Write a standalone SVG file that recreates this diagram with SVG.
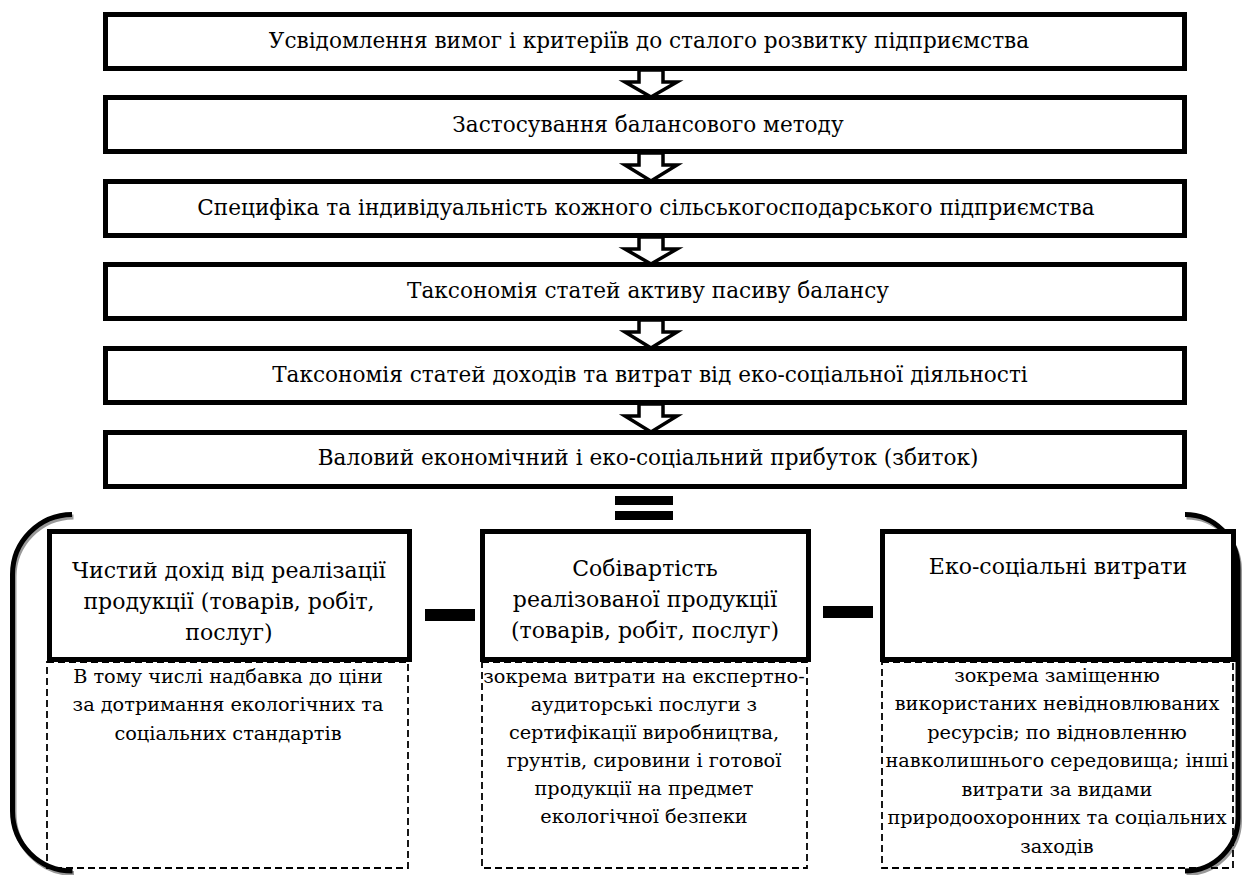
<svg xmlns="http://www.w3.org/2000/svg" width="1242" height="875" viewBox="0 0 1242 875">
<style>
.box{fill:#fff;stroke:#000;stroke-width:5}
.dash{fill:none;stroke:#000;stroke-width:1.8;stroke-dasharray:7 4}
.arr{fill:#fff;stroke:#000;stroke-width:3.5;stroke-linejoin:miter}
text{font-family:'DejaVu Serif','Liberation Serif','Noto Serif',serif;text-anchor:middle;fill:#000}
.t{font-size:21.6px}
.h{font-size:22px}
.d{font-size:19.3px}
.br{fill:none;stroke:#000;stroke-width:5}
.sh{fill:none;stroke:#999;stroke-width:5}
</style>
<rect width="1242" height="875" fill="#fff"/>
<g id="bracket">
<path class="sh" d="M73.5,517 A60 60 0 0 0 14,577 L14,813 A60 60 0 0 0 74,873.5"/>
<path class="sh" d="M1186.5,517 A53 53 0 0 1 1239.5,570 L1239.5,820 A53 53 0 0 1 1186.5,873.5"/>
<path class="br" d="M72,514.5 A60 60 0 0 0 12.5,574.5 L12.5,811 A60 60 0 0 0 72.5,871"/>
<path class="br" d="M1185,514.5 A53 53 0 0 1 1238,567.5 L1238,818 A53 53 0 0 1 1185,871"/>
</g>
<g id="n1"><rect class="box" x="105.5" y="14.5" width="1079" height="54"/><text class="t" x="649" y="48">Усвідомлення вимог і критеріїв до сталого розвитку підприємства</text></g>
<g id="n2"><rect class="box" x="105.5" y="97.5" width="1079" height="54"/><text class="t" x="648" y="132">Застосування балансового методу</text></g>
<g id="n3"><rect class="box" x="105.5" y="181.5" width="1079" height="54"/><text class="t" x="646" y="215">Специфіка та індивідуальність кожного сільськогосподарського підприємства</text></g>
<g id="n4"><rect class="box" x="105.5" y="264.5" width="1079" height="54"/><text class="t" x="648" y="298">Таксономія статей активу пасиву балансу</text></g>
<g id="n5"><rect class="box" x="105.5" y="348.5" width="1079" height="54"/><text class="t" x="650" y="382">Таксономія статей доходів та витрат від еко-соціальної діяльності</text></g>
<g id="n6"><rect class="box" x="105.5" y="432.5" width="1079" height="54"/><text class="t" x="648" y="465">Валовий економічний і еко-соціальний прибуток (збиток)</text></g>
<g id="connectors">
<path class="arr" d="M639,70 L663,70 L663,82 L677,82 L651,97 L625,82 L639,82 Z"/>
<path class="arr" d="M639,153 L663,153 L663,165 L677,165 L651,181 L625,165 L639,165 Z"/>
<path class="arr" d="M639,237 L663,237 L663,249 L677,249 L651,264 L625,249 L639,249 Z"/>
<path class="arr" d="M639,320 L663,320 L663,332 L677,332 L651,348 L625,332 L639,332 Z"/>
<path class="arr" d="M639,404 L663,404 L663,416 L677,416 L651,432 L625,416 L639,416 Z"/>
<rect x="615" y="496" width="58" height="9" fill="#000"/>
<rect x="615" y="511" width="58" height="9" fill="#000"/>
<rect x="425" y="609" width="50" height="12" fill="#000"/>
<rect x="823" y="606" width="50" height="12" fill="#000"/>
</g>
<g id="b1">
<rect class="box" x="49.5" y="531.5" width="360" height="128"/>
<text class="h" x="229" y="578">Чистий дохід від реалізації</text>
<text class="h" x="229" y="609">продукції (товарів, робіт,</text>
<text class="h" x="229" y="640">послуг)</text>
</g>
<g id="b2">
<rect class="box" x="482.5" y="531.5" width="326" height="128"/>
<text class="h" x="645" y="576">Собівартість</text>
<text class="h" x="645" y="607">реалізованої продукції</text>
<text class="h" x="645" y="638">(товарів, робіт, послуг)</text>
</g>
<g id="b3">
<rect class="box" x="882.5" y="531.5" width="351" height="128"/>
<text class="h" x="1058" y="574">Еко-соціальні витрати</text>
</g>
<g id="d1">
<rect class="dash" x="47" y="662" width="361" height="206"/>
<text class="d" x="228" y="683">В тому числі надбавка до ціни</text>
<text class="d" x="228" y="711">за дотримання екологічних та</text>
<text class="d" x="228" y="740">соціальних стандартів</text>
</g>
<g id="d2">
<rect class="dash" x="482" y="662" width="325" height="206"/>
<text class="d" x="644" y="683">зокрема витрати на експертно-</text>
<text class="d" x="644" y="711">аудиторські послуги з</text>
<text class="d" x="644" y="739">сертифікації виробництва,</text>
<text class="d" x="644" y="767">грунтів, сировини і готової</text>
<text class="d" x="644" y="795">продукції на предмет</text>
<text class="d" x="644" y="823">екологічної безпеки</text>
</g>
<g id="d3">
<rect class="dash" x="882" y="662" width="351" height="206"/>
<text class="d" x="1057" y="682">зокрема заміщенню</text>
<text class="d" x="1057" y="710">використаних невідновлюваних</text>
<text class="d" x="1057" y="739">ресурсів; по відновленню</text>
<text class="d" x="1057" y="767">навколишнього середовища; інші</text>
<text class="d" x="1057" y="796">витрати за видами</text>
<text class="d" x="1057" y="824">природоохоронних та соціальних</text>
<text class="d" x="1057" y="853">заходів</text>
</g>
</svg>
